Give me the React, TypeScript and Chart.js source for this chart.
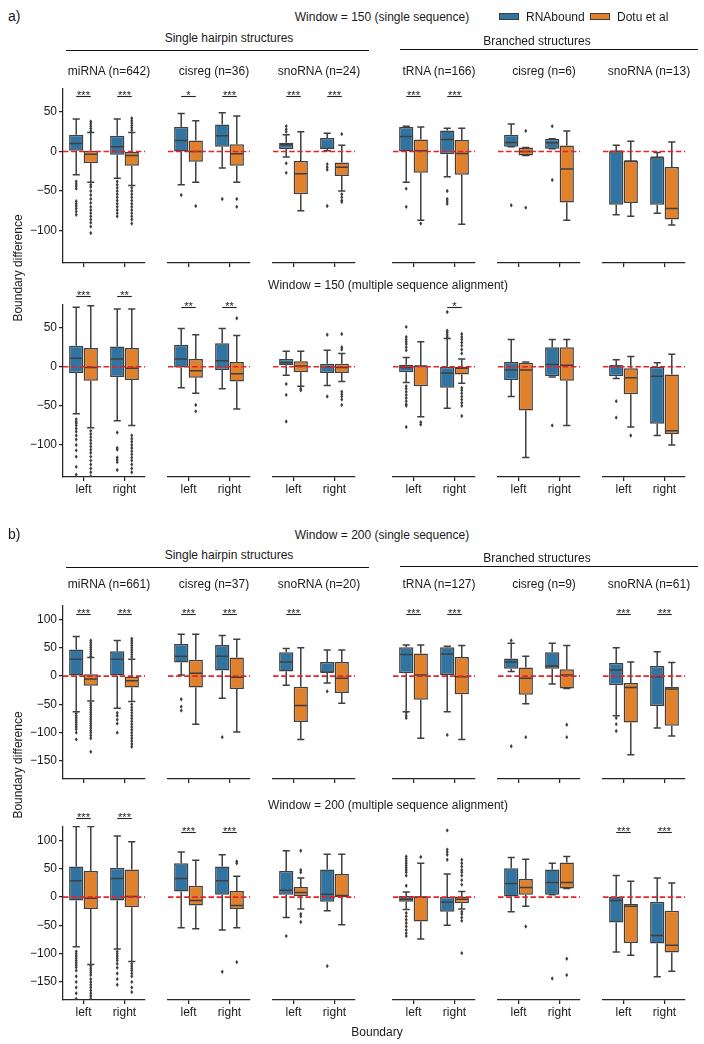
import React, { useEffect, useRef } from 'react';
import { Chart, registerables } from 'chart.js';
Chart.register(...registerables);

// ---------------- data ----------------
const CATEGORIES = ['left', 'right'];
const HUES = ['RNAbound', 'Dotu et al'];
const HUE_COLORS = ['#3274A1', '#E1812C'];

const A_TICKS = [50, 0, -50, -100];
const B_TICKS = [100, 50, 0, -50, -100, -150];
const A_RANGE = [-141, 79];
const B_RANGE = [-182, 124];

const A_TITLES = ['miRNA (n=642)', 'cisreg (n=36)', 'snoRNA (n=24)', 'tRNA (n=166)', 'cisreg (n=6)', 'snoRNA (n=13)'];
const B_TITLES = ['miRNA (n=661)', 'cisreg (n=37)', 'snoRNA (n=20)', 'tRNA (n=127)', 'cisreg (n=9)', 'snoRNA (n=61)'];

// box stats: [whiskerLow, q1, median, q3, whiskerHigh]; order: panel0 left, panel0 right, panel1 left, ...
const A1_RNABOUND = [
  [-29.5, 1, 10, 21, 41], [-34, -4, 6, 20, 41],
  [-42, 0, 14, 31, 48], [-21, 6, 20, 34, 49],
  [-7, 3, 8.5, 11, 21], [1, 3, 4, 17, 23],
  [-39, 0, 19, 31, 32], [-32, -3.4, 15, 26.5, 29.5],
  [6, 6, 11.5, 21, 34.6], [3.3, 3.3, 11, 16, 16],
  [-80, -67.5, 0.4, 0.4, 8], [-78, -67.5, -7.3, -7.3, -1.3],
];
const A1_DOTU = [
  [-39, -15, -3.4, 1, 24], [-43, -18, -5, 0, 24],
  [-39, -13, 0, 14, 39], [-39, -18, -3, 9, 45],
  [-75, -54, -28, -12, 25], [-50, -31, -20, -14, 8],
  [-87, -27, 1, 15, 31], [-92, -29.5, -2.6, 14.5, 29.5],
  [-5, -5, 0, 5, 5], [-87, -64.6, -22, 7.7, 26],
  [-82, -65, -12, -12, 13], [-93, -86, -72, -19.7, 12],
];
const A1_RNABOUND_FLIERS = [
  [-38, -41, -44, -47, -63, -66, -69, -72, -76, -80], [-38, -42, -46, -50, -54, -58, -62, -66, -70, -74, -78, -82],
  [-55], [-60],
  [25, 28, 32, -15, -27], [-16, -20, -23, -69],
  [-47, -70], [-50, -60, -63, -66],
  [-68], [32, -36],
  [], [],
];
const A1_DOTU_FLIERS = [
  [26, 29, 32, 35, 38, -42, -45, -50, -55, -60, -65, -70, -74, -78, -82, -86, -90, -95, -103],
  [27, 30, 33, 36, 39, 42, -46, -50, -54, -58, -62, -66, -70, -74, -78, -82, -86, -91],
  [-69], [-60, -70],
  [], [22, -54, -58, -62, -64],
  [-91], [],
  [26, -71], [],
  [], [],
];
// significance: [panel, category, label, y value]
const A1_SIGS = [
  [0, 0, '***', 70], [0, 1, '***', 70], [1, 0, '*', 70], [1, 1, '***', 70],
  [2, 0, '***', 70], [2, 1, '***', 70], [3, 0, '***', 70], [3, 1, '***', 70],
];

const A2_RNABOUND = [
  [-60, -8, 11, 27, 76], [-69, -13, 10, 26, 74],
  [-27, -1, 10, 28, 49], [-28, -4, 7.6, 30, 49],
  [-11, 2, 5, 10, 20], [-24, -8, 0, 4, 21],
  [-20, -7, -1, 2.5, 12], [-53, -27, -8, 0, 36],
  [-38, -17, -4, 6, 35], [-13, -12, 3, 25, 35],
  [-15, -12, 1, 2, 9], [-88, -73, -12, 0, 5],
];
const A2_DOTU = [
  [-78, -18, -1, 24, 78], [-75, -17, -2, 24, 74],
  [-34, -14, -5, 10, 41], [-54, -19, -9, 6, 40],
  [-25, -7, 1, 7, 20], [-19, -8, -1, 4, 17],
  [-64, -25, 1, 1, 32], [-21, -10, -2, 0, 10],
  [-116, -56, -4, 5, 6], [-75, -18, 2, 25, 35],
  [-77, -35, -14, -2, 13], [-100, -86, -82, -10, 16],
];
const A2_RNABOUND_FLIERS = [
  [-67, -70, -72, -75, -79, -83, -88, -93, -100, -107, -115, -128, -138], [-84, -104, -106, -116, -119, -122, -132],
  [], [],
  [-22, -36, -70], [41, -38],
  [51, 38, 35, 32, 29, 25, 21, -25, -28, -32, -36, -40, -44, -48, -50, -77], [70, 46, 44, 41, 38],
  [], [-75],
  [-44, -65], [],
];
const A2_DOTU_FLIERS = [
  [-82, -86, -90, -94, -98, -102, -106, -110, -115, -120, -125, -130, -135, -140],
  [-88, -92, -96, -100, -104, -108, -112, -116, -120, -125, -130, -135],
  [-49, -57], [62],
  [-28, -30], [42, 25, 22, -32, -35, -38, -42, -49],
  [-71, -74], [42, 38, 35, 31, 27, 22, 17, -27, -30, -34, -38, -42, -46, -50, -63],
  [], [],
  [-88], [],
];
const A2_SIGS = [
  [0, 0, '***', 91], [0, 1, '**', 91], [1, 0, '**', 77], [1, 1, '**', 77], [3, 1, '*', 77],
];

const B1_RNABOUND = [
  [-63, 0, 30, 47, 70], [-57, 0, 30, 44, 63],
  [2, 24, 35, 57, 74], [-39, 10, 35, 55, 72],
  [-16, 8, 25, 42, 49], [-12, 6, 7, 25, 46],
  [-63, 5, 38, 51, 55], [-63, 2, 39, 51, 53],
  [8, 13, 25, 31, 58], [-14, 13, 18, 42, 58],
  [-70, -16, 11, 23, 50], [-92, -53, -1, 18, 43],
];
const B1_DOTU = [
  [-44, -17, -5, 3.5, 33], [-45, -20, -8, 0, 30],
  [-85, -20, 5, 29, 74], [-99, -23, -2, 33, 65],
  [-112, -81, -52, -19, 50], [-48, -30, -4, 25, 46],
  [-110, -42, 2, 40, 55], [-112, -32, -1, 34, 54],
  [-49, -33, -4, 15, 35], [-22, -22, 2, 12, 54],
  [-139, -82, -20, -12, 25], [-106, -88, -23, -19, 24],
];
const B1_RNABOUND_FLIERS = [
  [-66, -70, -74, -78, -82, -86, -90, -94, -100, -112], [-65, -70, -77, -84, -100],
  [-41, -54, -61], [-108],
  [], [-27],
  [-65, -70, -74], [-104],
  [63, -124], [],
  [-74, -85, -97], [],
];
const B1_DOTU_FLIERS = [
  [63, 59, 55, 51, 47, 43, 39, 35, -48, -52, -56, -60, -64, -68, -72, -76, -80, -84, -88, -92, -96, -100, -105, -110, -134],
  [34, 38, 42, 46, 50, 54, 58, 62, 66, -50, -55, -60, -65, -70, -75, -80, -85, -90, -95, -100, -105, -110, -115, -120, -125],
  [], [],
  [], [],
  [], [],
  [-108], [-86, -108],
  [], [],
];
const B1_SIGS = [
  [0, 0, '***', 110], [0, 1, '***', 110], [1, 0, '***', 110], [1, 1, '***', 110], [2, 0, '***', 110],
  [3, 0, '***', 110], [3, 1, '***', 110], [5, 0, '***', 110], [5, 1, '***', 110],
];

const B2_RNABOUND = [
  [-88, -6, 29, 54, 125], [-92, -6, 33, 52, 108],
  [-54, 10, 33, 60, 80], [-58, 4, 29, 54, 75],
  [-36, 4, 12, 46, 82], [-24, -8, 5, 49, 76],
  [-22, -8, -4, 2, 9], [-50, -26, -9, 0, 41],
  [-26, 1, 24, 51, 70], [4, 4, 26, 49, 60],
  [-97, -45, -6, 1, 38], [-141, -82, -68, -8, 34],
];
const B2_DOTU = [
  [-119, -21, -2, 46, 125], [-114, -18, 1, 49, 98],
  [-56, -15, -6, 20, 65], [-54, -21, -15, 11, 37],
  [-21, 2, 8, 18, 34], [-49, 0, 3, 41, 76],
  [-74, -43, 0, 1, 60], [-21, -11, -4, 1, 10],
  [-16, 4, 17, 32, 67], [15, 15, 26, 61, 72],
  [-103, -81, -16, -12, 28], [-131, -98, -85, -24, 25],
];
const B2_RNABOUND_FLIERS = [
  [-96, -100, -104, -108, -112, -116, -120, -124, -130, -140, -150, -160, -170, -180],
  [-96, -100, -104, -108, -112, -118, -125, -135, -145, -155],
  [], [-132],
  [-69], [-122],
  [72, 68, 64, 60, 56, 52, 48, 44, 38, 20, -28, -34, -40, -46, -52, -58, -64, -69], [118, 84, 80, 75, 66],
  [], [-144],
  [], [],
];
const B2_DOTU_FLIERS = [
  [-122, -126, -130, -134, -138, -145, -150, -155, -160, -165, -170, -175, -180],
  [-118, -122, -126, -130, -135, -140, -150, -160, -168],
  [], [63, 60, -115],
  [82, 48, 44, -30, -34, -44], [],
  [71], [66, 60, 54, 48, 44, 38, 30, 22, -26, -30, -36, -42, -99],
  [-52], [-109, -138],
  [], [],
];
const B2_SIGS = [
  [0, 0, '***', 140], [0, 1, '***', 140], [1, 0, '***', 115], [1, 1, '***', 115], [5, 0, '***', 115], [5, 1, '***', 115],
];

// ---------------- styling / layout ----------------
const EDGE = '#3f3f3f';
const SPINE = '#262626';
const ZERO_COLOR = '#e3242b';
const FONT = '"Liberation Sans", Arial, Helvetica, sans-serif';
const TEXT = '#1a1a1a';

const COL_LEFTS = [63, 168, 273, 393, 498, 603];
const AREA_W = 82;
const PAD_L = 50;
const Y_W = 45;
const PAD_R = 8;
const PAD_T = 30;
const X_H = 28;

const ROWS = [
  { top: 89, h: 174, range: A_RANGE, ticks: A_TICKS, labels: false, rb: A1_RNABOUND, dt: A1_DOTU, rbf: A1_RNABOUND_FLIERS, dtf: A1_DOTU_FLIERS, sigs: A1_SIGS },
  { top: 305, h: 172, range: A_RANGE, ticks: A_TICKS, labels: true, rb: A2_RNABOUND, dt: A2_DOTU, rbf: A2_RNABOUND_FLIERS, dtf: A2_DOTU_FLIERS, sigs: A2_SIGS },
  { top: 606, h: 173, range: B_RANGE, ticks: B_TICKS, labels: false, rb: B1_RNABOUND, dt: B1_DOTU, rbf: B1_RNABOUND_FLIERS, dtf: B1_DOTU_FLIERS, sigs: B1_SIGS },
  { top: 827, h: 173, range: B_RANGE, ticks: B_TICKS, labels: true, rb: B2_RNABOUND, dt: B2_DOTU, rbf: B2_RNABOUND_FLIERS, dtf: B2_DOTU_FLIERS, sigs: B2_SIGS },
];

const fmtTick = (v: number) => (v < 0 ? '\u2212' + Math.abs(v) : String(v));

function makeBoxPlugin(stats: number[][][], fliers: number[][][], sigs: any[]) {
  return {
    id: 'boxExtras',
    afterDatasetsDraw(chart: any) {
      const { ctx, chartArea: a } = chart;
      const y = chart.scales.y;
      ctx.save();
      ctx.beginPath();
      ctx.rect(a.left, a.top - 1, a.right - a.left, a.bottom - a.top + 1);
      ctx.clip();
      ctx.strokeStyle = EDGE;
      ctx.fillStyle = EDGE;
      ctx.lineWidth = 1.5;
      stats.forEach((series, i) => {
        const meta = chart.getDatasetMeta(i);
        series.forEach((s, j) => {
          const bar = meta.data[j];
          const x = bar.x;
          const w = bar.width;
          const [lo, q1, med, q3, hi] = s.map((v) => y.getPixelForValue(v));
          ctx.beginPath();
          ctx.moveTo(x, q1); ctx.lineTo(x, lo);
          ctx.moveTo(x, q3); ctx.lineTo(x, hi);
          ctx.moveTo(x - w / 4, lo); ctx.lineTo(x + w / 4, lo);
          ctx.moveTo(x - w / 4, hi); ctx.lineTo(x + w / 4, hi);
          ctx.moveTo(x - w / 2 + 0.75, med); ctx.lineTo(x + w / 2 - 0.75, med);
          ctx.stroke();
          fliers[i][j].forEach((v) => {
            const py = y.getPixelForValue(v);
            ctx.beginPath();
            ctx.moveTo(x, py - 2.2);
            ctx.lineTo(x + 1.5, py);
            ctx.lineTo(x, py + 2.2);
            ctx.lineTo(x - 1.5, py);
            ctx.closePath();
            ctx.fill();
          });
        });
      });
      // zero reference line
      const y0 = y.getPixelForValue(0);
      ctx.strokeStyle = ZERO_COLOR;
      ctx.lineWidth = 1.6;
      ctx.setLineDash([5.5, 2.6]);
      ctx.beginPath();
      ctx.moveTo(a.left, y0);
      ctx.lineTo(a.right, y0);
      ctx.stroke();
      ctx.restore();

      // significance annotations
      ctx.save();
      ctx.strokeStyle = '#222';
      ctx.fillStyle = '#222';
      ctx.lineWidth = 1.1;
      ctx.font = '11px ' + FONT;
      ctx.textAlign = 'center';
      ctx.textBaseline = 'alphabetic';
      sigs.forEach(([c, label, v]) => {
        const bx = chart.getDatasetMeta(0).data[c].x;
        const ox = chart.getDatasetMeta(1).data[c].x;
        const py = Math.round(y.getPixelForValue(v)) + 0.5;
        ctx.beginPath();
        ctx.moveTo(bx, py);
        ctx.lineTo(ox, py);
        ctx.stroke();
        ctx.fillText(label, (bx + ox) / 2, py + 2.5);
      });
      ctx.restore();
    },
  };
}

function Panel({ row, col }: { row: number; col: number }) {
  const ref = useRef<HTMLCanvasElement>(null);
  const R = ROWS[row];
  const showY = col === 0;
  const W = PAD_L + AREA_W + PAD_R;
  const H = PAD_T + R.h + X_H;
  const left = COL_LEFTS[col] - PAD_L;
  const top = R.top - PAD_T;

  useEffect(() => {
    const stats = [R.rb.slice(2 * col, 2 * col + 2), R.dt.slice(2 * col, 2 * col + 2)];
    const fliers = [R.rbf.slice(2 * col, 2 * col + 2), R.dtf.slice(2 * col, 2 * col + 2)];
    const sigs = R.sigs.filter((s: any) => s[0] === col).map((s: any) => [s[1], s[2], s[3]]);
    const chart = new Chart(ref.current as HTMLCanvasElement, {
      type: 'bar',
      data: {
        labels: CATEGORIES,
        datasets: HUES.map((h, i) => ({
          label: h,
          data: stats[i].map((s) => [s[1], s[3]]),
          backgroundColor: HUE_COLORS[i],
          borderColor: EDGE,
          borderWidth: 1.5,
          borderSkipped: false,
          categoryPercentage: 0.71,
          barPercentage: 0.98,
        })),
      } as any,
      options: {
        responsive: false,
        animation: false,
        devicePixelRatio: 1,
        events: [],
        layout: { padding: { left: showY ? PAD_L - Y_W : PAD_L, right: PAD_R, top: PAD_T, bottom: 0 } },
        plugins: { legend: { display: false }, tooltip: { enabled: false } },
        scales: {
          x: {
            type: 'category',
            offset: true,
            grid: { display: true, offset: false, drawOnChartArea: false, drawTicks: true, tickLength: 4, color: SPINE, lineWidth: 1.25 },
            border: { display: true, color: SPINE, width: 1.25 },
            ticks: {
              color: TEXT,
              font: { family: FONT, size: 12 },
              padding: 1,
              maxRotation: 0,
              autoSkip: false,
              callback: (_v: any, i: number) => (R.labels ? CATEGORIES[i] : ''),
            },
            afterFit: (s: any) => { s.height = X_H; },
          },
          y: {
            type: 'linear',
            display: showY,
            min: R.range[0],
            max: R.range[1],
            afterBuildTicks: (s: any) => { s.ticks = R.ticks.map((v) => ({ value: v })); },
            grid: { display: true, drawOnChartArea: false, drawTicks: true, tickLength: 4, color: SPINE, lineWidth: 1.25 },
            border: { display: true, color: SPINE, width: 1.25 },
            ticks: {
              color: TEXT,
              font: { family: FONT, size: 12 },
              padding: 2,
              callback: (v: any) => fmtTick(Number(v)),
            },
            afterFit: (s: any) => { s.width = showY ? Y_W : 0; },
          },
        },
      } as any,
      plugins: [makeBoxPlugin(stats, fliers, sigs) as any],
    });
    return () => chart.destroy();
  }, []);

  return (
    <canvas
      ref={ref}
      width={W}
      height={H}
      style={{ position: 'absolute', left, top, width: W, height: H }}
    />
  );
}

function Txt({ x, y, children, size = 12, rotate = false, anchor = 'center' }: any) {
  const tx = anchor === 'left' ? '0' : '-50%';
  return (
    <div
      style={{
        position: 'absolute',
        left: x,
        top: y,
        transform: `translate(${tx}, -50%)` + (rotate ? ' rotate(-90deg)' : ''),
        transformOrigin: 'center',
        whiteSpace: 'nowrap',
        font: `${size}px ${FONT}`,
        color: TEXT,
        lineHeight: 1,
      }}
    >
      {children}
    </div>
  );
}

function HLine({ x1, x2, y }: any) {
  return <div style={{ position: 'absolute', left: x1, top: y - 0.75, width: x2 - x1, height: 0, borderTop: '1.5px solid #111' }} />;
}

function Patch({ x, y, color }: any) {
  return (
    <div style={{ position: 'absolute', left: x, top: y, width: 20, height: 7, background: color, border: `1px solid ${EDGE}`, boxSizing: 'border-box' }} />
  );
}

export default function App() {
  const titleOffset = 5;
  return (
    <div style={{ position: 'absolute', left: 0, top: 0, width: 704, height: 1044, background: '#fff', overflow: 'hidden' }}>
      {ROWS.map((_, r) => COL_LEFTS.map((_c, c) => <Panel key={`${r}-${c}`} row={r} col={c} />))}

      <Txt x={8} y={16} size={14} anchor="left">a)</Txt>
      <Txt x={8} y={534} size={14} anchor="left">b)</Txt>

      <Txt x={382} y={17}>Window = 150 (single sequence)</Txt>
      <Txt x={388} y={285}>Window = 150 (multiple sequence alignment)</Txt>
      <Txt x={382} y={535}>Window = 200 (single sequence)</Txt>
      <Txt x={388} y={805}>Window = 200 (multiple sequence alignment)</Txt>

      <Patch x={499} y={13} color={HUE_COLORS[0]} />
      <Txt x={526} y={17} anchor="left">{HUES[0]}</Txt>
      <Patch x={590} y={13} color={HUE_COLORS[1]} />
      <Txt x={617} y={17} anchor="left">{HUES[1]}</Txt>

      <Txt x={229} y={38}>Single hairpin structures</Txt>
      <HLine x1={66} x2={369} y={51} />
      <Txt x={537} y={41}>Branched structures</Txt>
      <HLine x1={400} x2={698} y={50} />

      <Txt x={229} y={555}>Single hairpin structures</Txt>
      <HLine x1={66} x2={369} y={568} />
      <Txt x={537} y={558}>Branched structures</Txt>
      <HLine x1={400} x2={698} y={567} />

      {A_TITLES.map((t, i) => (
        <Txt key={'at' + i} x={COL_LEFTS[i] + AREA_W / 2 + titleOffset} y={71}>{t}</Txt>
      ))}
      {B_TITLES.map((t, i) => (
        <Txt key={'bt' + i} x={COL_LEFTS[i] + AREA_W / 2 + titleOffset} y={584}>{t}</Txt>
      ))}

      <Txt x={17.5} y={268} rotate>Boundary difference</Txt>
      <Txt x={17.5} y={765} rotate>Boundary difference</Txt>
      <Txt x={377} y={1032}>Boundary</Txt>
    </div>
  );
}
